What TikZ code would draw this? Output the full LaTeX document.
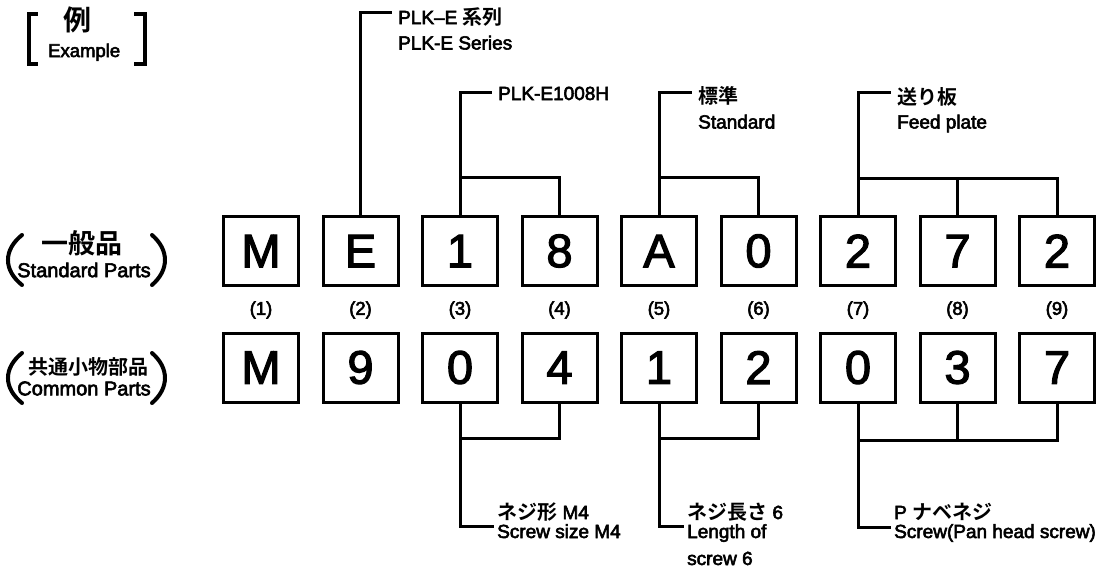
\documentclass[tikz,border=0pt]{standalone}
\usepackage{fontspec}
\setmainfont{Liberation Sans}
\newfontfamily\lat{Liberation Sans}[FakeBold=3]
\newfontfamily\dig{Liberation Sans}[FakeBold=2.5]
\newfontfamily\jp{Noto Sans CJK JP Bold}
\newcommand\jtxt[1]{{\jp\fontsize{20}{20}\selectfont #1}}
\begin{document}
\begin{tikzpicture}[x=1pt,y=-1pt,
  conn/.style={line width=3pt},
  digit/.style={draw, line width=3pt, minimum width=75pt, minimum height=69pt, inner sep=0pt,
    font=\dig\fontsize{47}{47}\selectfont},
  numlab/.style={inner sep=0pt, font=\lat\fontsize{18.5}{19}\selectfont},
  lab/.style={anchor=base west, inner sep=0pt, font=\lat\fontsize{19}{20}\selectfont},
  paren/.style={line width=4pt, line cap=round},
  brk/.style={line width=4pt}]
\useasboundingbox (0,0) rectangle (1104,568);

% Example bracket
\draw[brk] (37.5,13.6) -- (28.6,13.6) -- (28.6,64) -- (37.5,64);
\draw[brk] (134,13.6) -- (145,13.6) -- (145,64) -- (134,64);
\node[inner sep=0pt, font=\jp\fontsize{28}{28}\selectfont] (ex1) at (77,19.6) {例};
\node[lab, font=\lat\fontsize{18.5}{19}\selectfont] (ex2) at (48,57) {Example};

% left labels
\draw[paren] (22,235) .. controls (3.3,250) and (3.3,270) .. (22,285);
\draw[paren] (152,235) .. controls (169.3,250) and (169.3,270) .. (152,285);
\node[inner sep=0pt, font=\jp\fontsize{27}{27}\selectfont] (g1) at (82,243.5) {一般品};
\node[inner sep=0pt, font=\lat\fontsize{20}{20}\selectfont] (g2) at (84,270) {Standard Parts};
\draw[paren] (22,353) .. controls (3.3,368) and (3.3,388) .. (22,403);
\draw[paren] (152,353) .. controls (169.3,368) and (169.3,388) .. (152,403);
\node[inner sep=0pt, font=\jp\fontsize{20}{20}\selectfont] (c1) at (88,366.5) {共通小物部品};
\node[inner sep=0pt, font=\lat\fontsize{20}{20}\selectfont] (c2) at (84,388.5) {Common Parts};

% top row
\node[digit] (t1) at (261,251) {M};
\node[digit] (t2) at (360.5,251) {E};
\node[digit] (t3) at (460,251) {1};
\node[digit] (t4) at (559.5,251) {8};
\node[digit] (t5) at (659,251) {A};
\node[digit] (t6) at (758.5,251) {0};
\node[digit] (t7) at (858,251) {2};
\node[digit] (t8) at (957.5,251) {7};
\node[digit] (t9) at (1057,251) {2};

% numbers
\node[numlab] (n1) at (261,310) {(1)};
\node[numlab] (n2) at (360.5,310) {(2)};
\node[numlab] (n3) at (460,310) {(3)};
\node[numlab] (n4) at (559.5,310) {(4)};
\node[numlab] (n5) at (659,310) {(5)};
\node[numlab] (n6) at (758.5,310) {(6)};
\node[numlab] (n7) at (858,310) {(7)};
\node[numlab] (n8) at (957.5,310) {(8)};
\node[numlab] (n9) at (1057,310) {(9)};

% bottom row
\node[digit] (b1) at (261,367.5) {M};
\node[digit] (b2) at (360.5,367.5) {9};
\node[digit] (b3) at (460,367.5) {0};
\node[digit] (b4) at (559.5,367.5) {4};
\node[digit] (b5) at (659,367.5) {1};
\node[digit] (b6) at (758.5,367.5) {2};
\node[digit] (b7) at (858,367.5) {0};
\node[digit] (b8) at (957.5,367.5) {3};
\node[digit] (b9) at (1057,367.5) {7};

% top labels and connectors
\node[lab] (l2a) at (398,24) {PLK–E \jtxt{系列}};
\node[lab] (l2b) at (398,49.5) {PLK-E Series};
\coordinate (k2) at (392,12);
\draw[conn] (t2.north) |- (k2);

\node[lab] (l3) at (498,100) {PLK-E1008H};
\coordinate (k3) at (492,92);
\draw[conn] (t3.north) |- (k3);
\draw[conn] (t4.north) |- (t3.north |- 0,177);

\node[lab] (l5a) at (698,103.5) {\jtxt{標準}};
\node[lab] (l5b) at (698,128.5) {Standard};
\coordinate (k5) at (692,92);
\draw[conn] (t5.north) |- (k5);
\draw[conn] (t6.north) |- (t5.north |- 0,177);

\node[lab] (l7a) at (897,104.5) {\jtxt{送り板}};
\node[lab] (l7b) at (897,128.5) {Feed plate};
\coordinate (k7) at (891,92);
\draw[conn] (t7.north) |- (k7);
\draw[conn] (t9.north) |- (t7.north |- 0,178);
\draw[conn] (t8.north) -- (t8.north |- 0,178);

% bottom labels and connectors
\node[lab] (m3a) at (497,519) {\jtxt{ネジ形} M4};
\node[lab] (m3b) at (497,538) {Screw size M4};
\coordinate (q3) at (494,526);
\draw[conn] (b3.south) |- (q3);
\draw[conn] (b4.south) |- (b3.south |- 0,438);

\node[lab] (m5a) at (687,519) {\jtxt{ネジ長さ} 6};
\node[lab] (m5b) at (687,538) {Length of};
\node[lab] (m5c) at (687,565) {screw 6};
\coordinate (q5) at (684,526);
\draw[conn] (b5.south) |- (q5);
\draw[conn] (b6.south) |- (b5.south |- 0,438);

\node[lab] (m7a) at (894,519) {P \jtxt{ナベネジ}};
\node[lab] (m7b) at (894,538) {Screw(Pan head screw)};
\coordinate (q7) at (891,527);
\draw[conn] (b7.south) |- (q7);
\draw[conn] (b9.south) |- (b7.south |- 0,440);
\draw[conn] (b8.south) -- (b8.south |- 0,440);
\end{tikzpicture}
\end{document}
